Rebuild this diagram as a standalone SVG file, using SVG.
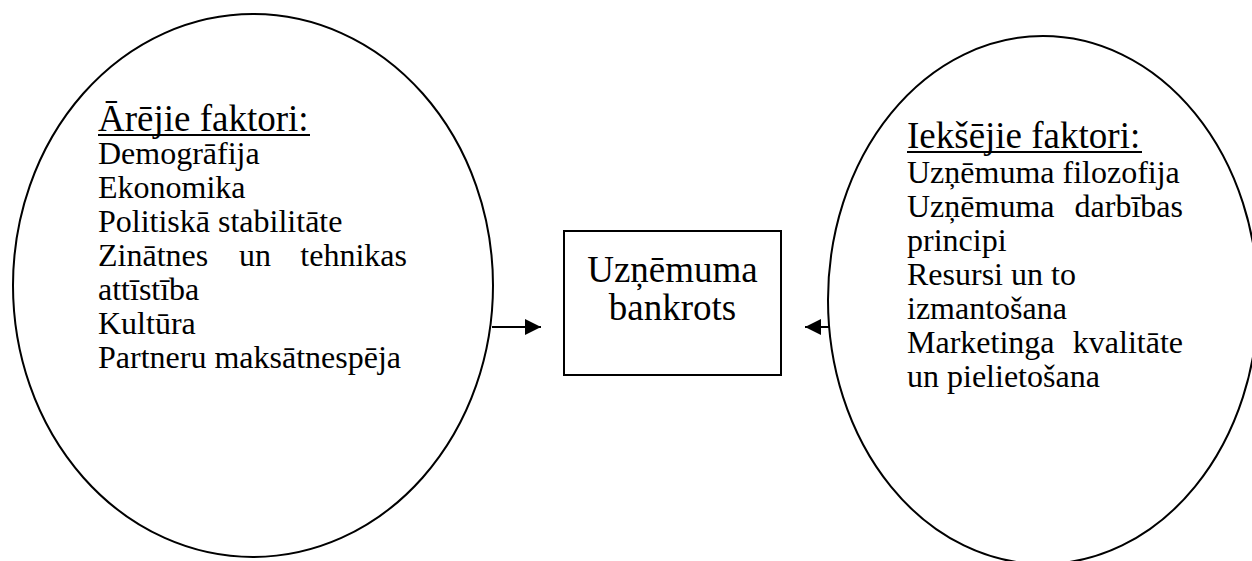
<svg xmlns="http://www.w3.org/2000/svg" width="1252" height="561" viewBox="0 0 1252 561">
  <style>
    .shape { fill: #ffffff; stroke: #000000; stroke-width: 2; }
    .txt { font-family: "Liberation Serif", "Times New Roman", serif; fill: #000000; }
    .head { font-size: 37px; }
    .item { font-size: 32px; }
    .ul { stroke: #000000; stroke-width: 2; }
    .conn { stroke: #000000; stroke-width: 2; fill: none; }
  </style>
  <defs>
    <marker id="arrow" viewBox="0 0 16 16" refX="16" refY="8" markerWidth="16" markerHeight="16" markerUnits="userSpaceOnUse" orient="auto">
      <path d="M0,0 L16,8 L0,16 Z" fill="#000000"/>
    </marker>
  </defs>
  <rect width="1252" height="561" fill="#ffffff"/>

  <g id="external-factors">
    <ellipse class="shape" cx="253" cy="285.5" rx="240" ry="271.5"/>
    <text class="txt head" x="98" y="131">Ārējie faktori:</text>
    <line class="ul" x1="98" y1="135" x2="310" y2="135"/>
    <text class="txt item" x="98" y="164">Demogrāfija</text>
    <text class="txt item" x="98" y="198">Ekonomika</text>
    <text class="txt item" x="98" y="232">Politiskā stabilitāte</text>
    <text class="txt item" y="266"><tspan x="98">Zinātnes</tspan><tspan x="239">un</tspan><tspan x="407" text-anchor="end">tehnikas</tspan></text>
    <text class="txt item" x="98" y="300">attīstība</text>
    <text class="txt item" x="98" y="334">Kultūra</text>
    <text class="txt item" x="98" y="368">Partneru maksātnespēja</text>
  </g>

  <g id="bankruptcy">
    <rect class="shape" x="564" y="231" width="217" height="144"/>
    <text class="txt head" x="672.5" y="282" text-anchor="middle">Uzņēmuma</text>
    <text class="txt head" x="672.5" y="320" text-anchor="middle">bankrots</text>
  </g>

  <g id="internal-factors">
    <ellipse class="shape" cx="1043" cy="300" rx="215" ry="264"/>
    <text class="txt head" x="907" y="148">Iekšējie faktori:</text>
    <line class="ul" x1="907" y1="152" x2="1142" y2="152"/>
    <text class="txt item" x="907" y="183">Uzņēmuma filozofija</text>
    <text class="txt item" y="217"><tspan x="907">Uzņēmuma</tspan><tspan x="1183" text-anchor="end">darbības</tspan></text>
    <text class="txt item" x="907" y="251">principi</text>
    <text class="txt item" x="907" y="285">Resursi un to</text>
    <text class="txt item" x="907" y="319">izmantošana</text>
    <text class="txt item" y="353"><tspan x="907">Marketinga</tspan><tspan x="1183" text-anchor="end">kvalitāte</tspan></text>
    <text class="txt item" x="907" y="387">un pielietošana</text>
  </g>

  <g id="connectors">
    <line class="conn" x1="492" y1="327" x2="541" y2="327" marker-end="url(#arrow)"/>
    <line class="conn" x1="829" y1="327" x2="805" y2="327" marker-end="url(#arrow)"/>
  </g>
</svg>
